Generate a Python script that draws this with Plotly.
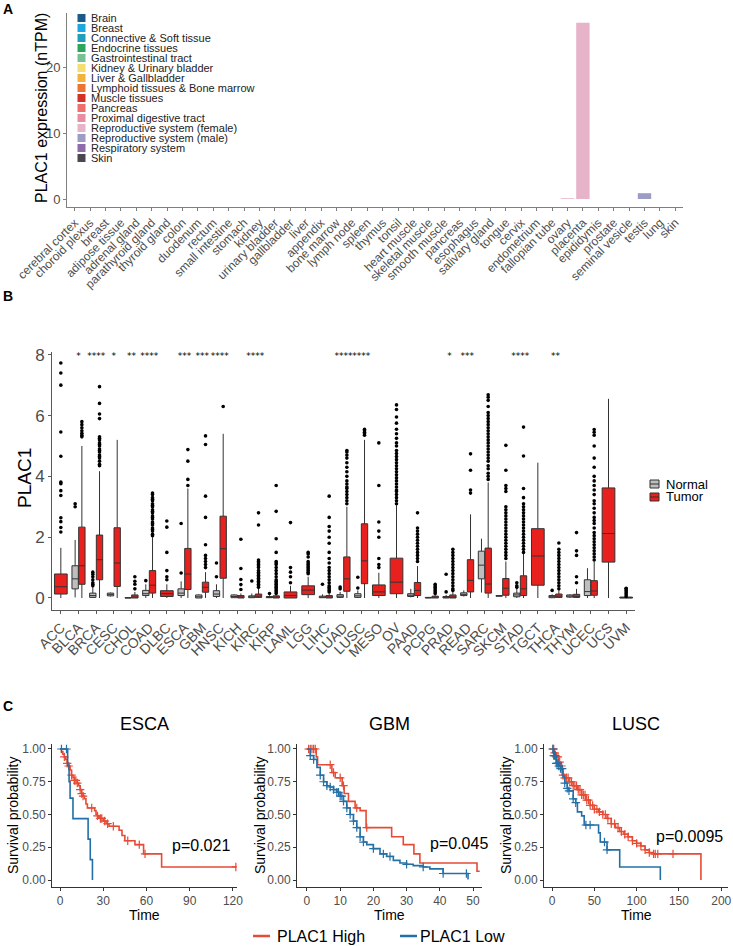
import plotly.graph_objects as go

W, H = 733, 946

# ---------------- Panel A data ----------------
tissues = ["cerebral cortex", "choroid plexus", "breast", "adipose tissue", "adrenal gland",
           "parathyroid gland", "thyroid gland", "colon", "duodenum", "rectum",
           "small intestine", "stomach", "kidney", "urinary bladder", "gallbladder",
           "liver", "appendix", "bone marrow", "lymph node", "spleen", "thymus", "tonsil",
           "heart muscle", "skeletal muscle", "smooth muscle", "pancreas", "esophagus",
           "salivary gland", "tongue", "cervix", "endometrium", "fallopian tube", "ovary",
           "placenta", "epididymis", "prostate", "seminal vesicle", "testis", "lung", "skin"]
tissue_groups = ["Brain", "Brain", "Breast", "Connective & Soft tissue", "Endocrine tissues",
                 "Endocrine tissues", "Endocrine tissues", "Gastrointestinal tract",
                 "Gastrointestinal tract", "Gastrointestinal tract", "Gastrointestinal tract",
                 "Gastrointestinal tract", "Kidney & Urinary bladder", "Kidney & Urinary bladder",
                 "Liver & Gallbladder", "Liver & Gallbladder",
                 "Lymphoid tissues & Bone marrow", "Lymphoid tissues & Bone marrow",
                 "Lymphoid tissues & Bone marrow", "Lymphoid tissues & Bone marrow",
                 "Lymphoid tissues & Bone marrow", "Lymphoid tissues & Bone marrow",
                 "Muscle tissues", "Muscle tissues", "Muscle tissues", "Pancreas",
                 "Proximal digestive tract", "Proximal digestive tract", "Proximal digestive tract",
                 "Reproductive system (female)", "Reproductive system (female)",
                 "Reproductive system (female)", "Reproductive system (female)",
                 "Reproductive system (female)", "Reproductive system (male)",
                 "Reproductive system (male)", "Reproductive system (male)",
                 "Reproductive system (male)", "Respiratory system", "Skin"]
tissue_values = [0, 0, 0, 0, 0, 0, 0, 0, 0, 0, 0, 0, 0, 0, 0, 0, 0, 0, 0, 0, 0, 0,
                 0, 0, 0, 0, 0, 0, 0, 0, 0, 0, 0.12, 26.7, 0, 0, 0, 0.88, 0, 0]
group_names = ["Brain", "Breast", "Connective & Soft tissue", "Endocrine tissues",
               "Gastrointestinal tract", "Kidney & Urinary bladder", "Liver & Gallbladder",
               "Lymphoid tissues & Bone marrow", "Muscle tissues", "Pancreas",
               "Proximal digestive tract", "Reproductive system (female)",
               "Reproductive system (male)", "Respiratory system", "Skin"]
group_colors = ["#1B5B8C", "#1BA8E0", "#219EBC", "#2EA55C", "#78C192", "#F4DD71", "#F2B33A",
                "#EC7532", "#D43127", "#EE6F6E", "#E98EA0", "#E6B3C8", "#9D9CC4", "#8E6BAA",
                "#4B4750"]
a_ytitle = "PLAC1 expression (nTPM)"

# ---------------- Panel B data ----------------
cancers = ["ACC", "BLCA", "BRCA", "CESC", "CHOL", "COAD", "DLBC", "ESCA", "GBM", "HNSC",
           "KICH", "KIRC", "KIRP", "LAML", "LGG", "LIHC", "LUAD", "LUSC", "MESO", "OV",
           "PAAD", "PCPG", "PRAD", "READ", "SARC", "SKCM", "STAD", "TGCT", "THCA", "THYM",
           "UCEC", "UCS", "UVM"]
# [lower whisker, q1, median, q3, upper whisker]
normal_stats = [None, [0.02, 0.30, 0.63, 1.06, 1.91], [0.0, 0.02, 0.08, 0.16, 0.35],
                [0.05, 0.07, 0.11, 0.16, 0.18], [0.0, 0.0, 0.005, 0.01, 0.02],
                [0.0, 0.08, 0.14, 0.25, 0.45], None, [0.0, 0.08, 0.16, 0.30, 0.55],
                [0.0, 0.0, 0.04, 0.10, 0.12], [0.0, 0.05, 0.13, 0.24, 0.45],
                [0.0, 0.01, 0.05, 0.10, 0.12], [0.0, 0.01, 0.03, 0.07, 0.15],
                [0.0, 0.01, 0.02, 0.05, 0.09], None, None, [0.0, 0.01, 0.03, 0.06, 0.12],
                [0.0, 0.02, 0.06, 0.11, 0.20], [0.0, 0.02, 0.07, 0.14, 0.25], None, None,
                [0.02, 0.05, 0.09, 0.14, 0.30], [0.0, 0.0, 0.01, 0.02, 0.03],
                [0.0, 0.0, 0.02, 0.05, 0.10], [0.05, 0.08, 0.12, 0.17, 0.25],
                [0.18, 0.63, 1.08, 1.54, 1.95], [0.05, 0.06, 0.07, 0.08, 0.09],
                [0.0, 0.04, 0.10, 0.16, 0.30], None, [0.0, 0.01, 0.04, 0.08, 0.12],
                [0.0, 0.03, 0.06, 0.10, 0.12], [0.0, 0.08, 0.21, 0.60, 0.98], None, None]
tumor_stats = [[0.0, 0.13, 0.37, 0.79, 1.65], [0.0, 0.45, 1.06, 2.33, 5.0],
               [0.0, 0.60, 1.26, 2.07, 4.17], [0.0, 0.38, 1.15, 2.31, 5.2],
               [0.0, 0.0, 0.03, 0.10, 0.20], [0.0, 0.16, 0.42, 0.90, 2.0],
               [0.0, 0.05, 0.14, 0.24, 0.45], [0.0, 0.28, 0.79, 1.63, 3.6],
               [0.0, 0.19, 0.35, 0.52, 0.85], [0.0, 0.65, 1.62, 2.69, 5.4],
               [0.0, 0.0, 0.03, 0.08, 0.15], [0.0, 0.02, 0.06, 0.13, 0.30],
               [0.0, 0.0, 0.02, 0.07, 0.12], [0.0, 0.0, 0.08, 0.20, 0.40],
               [0.0, 0.11, 0.26, 0.40, 0.70], [0.0, 0.0, 0.03, 0.08, 0.15],
               [0.0, 0.22, 0.63, 1.35, 3.0], [0.0, 0.47, 1.22, 2.44, 5.2],
               [0.0, 0.08, 0.20, 0.43, 0.83], [0.0, 0.14, 0.52, 1.31, 3.05],
               [0.0, 0.08, 0.25, 0.51, 1.05], [0.0, 0.0, 0.03, 0.06, 0.10],
               [0.0, 0.0, 0.03, 0.10, 0.20], [0.0, 0.20, 0.58, 1.26, 2.75],
               [0.0, 0.16, 0.46, 1.64, 3.8], [0.0, 0.09, 0.32, 0.64, 1.2],
               [0.0, 0.08, 0.30, 0.73, 1.5], [0.0, 0.42, 1.38, 2.28, 4.45],
               [0.0, 0.02, 0.06, 0.13, 0.25], [0.0, 0.02, 0.05, 0.12, 0.30],
               [0.0, 0.09, 0.23, 0.57, 1.2], [0.0, 1.18, 2.12, 3.62, 6.55],
               [0.0, 0.0, 0.01, 0.03, 0.05]]
normal_outliers = [[], [3.0, 3.1], [0.4, 0.45, 0.5, 0.6, 0.7, 0.78, 0.85], [], [], [0.57], [],
                   [0.82, 2.45], [], [0.7, 1.15], [], [0.56], [0.15], [], [], [0.45],
                   [0.3, 0.36], [0.33, 0.68], [], [], [], [], [0.2, 0.78], [], [], [],
                   [0.35, 0.4, 0.5], [], [0.25], [], [], [], []]
tumor_outliers = [
    [2.17, 2.32, 2.51, 2.64, 3.37, 3.53, 3.76, 3.81, 4.66, 5.46, 7.0, 7.4, 7.73],
    [5.3, 5.35, 5.42, 5.5, 5.6, 5.7, 5.8],
    [4.35, 4.4, 4.5, 4.6, 4.65, 4.7, 4.8, 4.85, 4.9, 5.0, 5.05, 5.1, 5.2, 5.25, 5.3,
     5.9, 6.05, 6.4, 6.95],
    [],
    [0.3, 0.45, 0.55, 0.7],
    [2.05, 2.1, 2.2, 2.25, 2.3, 2.4, 2.45, 2.5, 2.6, 2.65, 2.7, 2.8, 2.85, 2.9, 3.0,
     3.05, 3.1, 3.2, 3.25, 3.3, 3.4, 3.45],
    [0.6, 0.7, 0.9, 1.5, 2.33, 2.53],
    [3.7, 3.9, 4.5, 4.88],
    [1.0, 1.1, 1.2, 1.3, 1.4, 1.75, 2.65, 3.35, 5.05, 5.33],
    [6.3],
    [0.28, 0.44, 0.61, 0.97, 1.93],
    [0.35, 0.4, 0.45, 0.5, 0.55, 0.6, 0.65, 0.7, 0.75, 0.8, 0.85, 0.9, 1.0, 1.05, 1.1,
     1.15, 1.2, 1.25, 2.4, 2.8],
    [0.15, 0.2, 0.25, 0.3, 0.35, 0.4, 0.45, 0.5, 0.55, 0.6, 0.7, 0.8, 0.9, 1.0, 1.1,
     1.15, 1.2, 1.5, 1.95, 2.85, 3.7],
    [0.5, 0.7, 0.85, 1.0, 2.48],
    [0.8, 0.85, 0.9, 0.95, 1.0, 1.05, 1.1, 1.15, 1.2, 1.35, 1.45, 1.5],
    [0.2, 0.25, 0.3, 0.35, 0.4, 0.5, 0.6, 0.7, 0.8, 0.9, 1.0, 1.15, 1.3, 1.5, 1.8, 2.0,
     2.2, 2.35, 2.65, 3.35],
    [3.1, 3.2, 3.3, 3.4, 3.5, 3.6, 3.65, 3.75, 3.85, 4.0, 4.15, 4.3, 4.45, 4.6, 4.7,
     4.8, 4.85],
    [5.35, 5.4, 5.45, 5.5, 5.55],
    [1.0, 1.1, 1.3, 2.0, 2.2, 2.5, 3.7, 5.1],
    [3.1, 3.2, 3.3, 3.4, 3.5, 3.55, 3.65, 3.75, 3.85, 3.95, 4.05, 4.15, 4.25, 4.35, 4.45,
     4.55, 4.65, 4.75, 4.85, 5.0, 5.1, 5.25, 5.4, 5.55, 5.75, 5.95, 6.2, 6.35],
    [1.2, 1.3, 1.4, 1.5, 1.6, 1.7, 1.8, 1.9, 2.0, 2.1, 2.2, 2.3, 2.8],
    [0.15, 0.2, 0.25, 0.3, 0.35, 0.4, 0.45],
    [0.25, 0.3, 0.4, 0.5, 0.6, 0.7, 0.8, 0.9, 1.0, 1.1, 1.2, 1.3, 1.4, 1.5, 1.6],
    [3.45, 3.55, 4.2, 4.74],
    [3.9, 4.0, 4.1, 4.25, 4.35, 4.5, 4.6, 4.7, 4.8, 4.9, 5.0, 5.1, 5.2, 5.3, 5.4, 5.5,
     5.6, 5.7, 5.8, 5.9, 6.0, 6.1, 6.3, 6.5, 6.6, 6.68],
    [1.3, 1.4, 1.5, 1.6, 1.7, 1.8, 1.9, 2.0, 2.1, 2.2, 2.3, 2.4, 2.5, 2.6, 2.7, 2.8, 2.9,
     3.0, 3.5, 3.6, 3.7, 4.2, 5.02],
    [1.5, 1.6, 1.7, 1.8, 1.9, 2.0, 2.1, 2.2, 2.3, 2.4, 2.5, 2.6, 2.7, 2.8, 2.9, 3.0, 3.1,
     3.3, 3.6, 4.67, 5.62],
    [],
    [0.3, 0.4, 0.5, 0.6, 0.7, 0.8, 0.9, 1.0, 1.1, 1.2, 1.3, 1.4, 1.5, 1.6, 1.81],
    [0.5, 0.7, 1.4, 1.55, 2.15],
    [1.25, 1.35, 1.45, 1.55, 1.65, 1.75, 1.85, 1.95, 2.05, 2.15, 2.3, 2.45, 2.55, 2.65,
     2.8, 2.95, 3.1, 3.2, 3.4, 3.55, 3.7, 3.85, 4.0, 4.3, 4.6, 5.0, 5.35, 5.45, 5.54],
    [],
    [0.05, 0.1, 0.15, 0.2, 0.25, 0.3, 0.32]]
stars = ["", "*", "****", "*", "**", "****", "", "***", "***", "****", "", "****", "", "",
         "", "", "****", "****", "", "", "", "", "*", "***", "", "", "****", "", "**", "",
         "", "", ""]
star_level = 7.93
b_ytitle = "PLAC1"
b_legend = ["Normal", "Tumor"]

# ---------------- Panel C data ----------------
km_names = ["ESCA", "GBM", "LUSC"]
km_pvals = ["p=0.021", "p=0.045", "p=0.0095"]
km_xticks = [[0, 30, 60, 90, 120], [0, 10, 20, 30, 40, 50], [0, 50, 100, 150, 200]]
km_xtitle = "Time"
km_ytitle = "Survival probability"

esca_high_t = [0, 1, 2, 3, 4, 5, 6, 7, 8, 9, 10, 12, 13, 14, 15, 16, 17, 18, 19, 24, 25,
               26, 27, 28, 30, 32, 34, 41, 43, 45, 52, 58, 70.5]
esca_high_s = [1, 0.98, 0.96, 0.94, 0.92, 0.89, 0.87, 0.84, 0.80, 0.78, 0.76, 0.74, 0.72,
               0.69, 0.66, 0.64, 0.62, 0.58, 0.55, 0.53, 0.50, 0.49, 0.48, 0.47, 0.45, 0.43,
               0.41, 0.38, 0.34, 0.30, 0.27, 0.20, 0.10]
esca_high_end = 122
esca_high_cens = [3, 5, 6, 8, 10, 11, 12, 14, 15, 16, 22, 26, 28, 29, 31, 33, 37, 47, 55,
                  59, 122]
esca_low_t = [0, 5.3, 6.3, 7, 9, 19.5, 21, 22.5]
esca_low_s = [1, 0.875, 0.75, 0.625, 0.469, 0.3125, 0.156, 0.0]
esca_low_end = 22.5
esca_low_cens = [1, 4.5]

gbm_high_t = [0, 2.8, 3.2, 7.5, 8.5, 10.6, 11.2, 12.5, 14.5, 16, 17.8, 25.5, 29, 32.2, 34,
              51.2]
gbm_high_s = [1, 0.94, 0.88, 0.82, 0.78, 0.72, 0.66, 0.60, 0.55, 0.53, 0.40, 0.33, 0.27,
              0.20, 0.13, 0.067]
gbm_high_end = 52
gbm_high_cens = [0.5, 1, 1.5, 2, 2.5, 7, 8, 10, 11, 15, 18]
gbm_low_t = [0, 1, 2, 3, 4, 5, 6, 7, 8, 9, 10, 11, 12, 13, 14, 15, 16, 17, 18, 20, 22, 24,
             26, 28, 30, 32, 35, 37, 41, 48.5]
gbm_low_s = [1, 0.95, 0.92, 0.86, 0.80, 0.75, 0.72, 0.71, 0.69, 0.67, 0.64, 0.60, 0.55,
             0.50, 0.45, 0.40, 0.33, 0.29, 0.27, 0.24, 0.20, 0.18, 0.15, 0.13, 0.12, 0.11,
             0.10, 0.085, 0.05, 0.01]
gbm_low_end = 48.7
gbm_low_cens = [1, 2, 4, 5, 6, 7, 8, 9, 9.5, 10, 10.5, 11, 12, 13, 14, 15, 16, 17, 20, 23,
                25, 30, 35, 41, 48]

lusc_high_t = [0, 3, 5, 8, 10, 12, 15, 20, 25, 30, 35, 40, 45, 50, 55, 60, 65, 70, 75, 80,
               85, 90, 95, 100, 105, 110, 115, 120, 176]
lusc_high_s = [1, 0.97, 0.94, 0.90, 0.87, 0.80, 0.78, 0.75, 0.72, 0.69, 0.65, 0.61, 0.57,
               0.54, 0.52, 0.50, 0.47, 0.43, 0.40, 0.37, 0.35, 0.33, 0.30, 0.28, 0.26, 0.23,
               0.21, 0.20, 0.0]
lusc_high_end = 176
lusc_high_cens = [1, 2, 3, 5, 7, 9, 11, 13, 15, 17, 19, 21, 23, 25, 27, 29, 31, 33, 35, 37,
                  39, 41, 43, 45, 48, 50, 53, 56, 60, 63, 66, 70, 74, 78, 82, 86, 90, 95,
                  100, 105, 110, 115, 120, 122, 125, 143]
lusc_low_t = [0, 2, 5, 8, 10, 13, 15, 18, 20, 25, 28, 30, 35, 38, 55, 57, 65, 80, 128]
lusc_low_s = [1, 0.95, 0.89, 0.87, 0.85, 0.79, 0.74, 0.70, 0.68, 0.62, 0.59, 0.52, 0.49,
              0.42, 0.36, 0.29, 0.23, 0.10, 0.0]
lusc_low_end = 128
lusc_low_cens = [1, 2, 3, 4, 5, 6, 7, 8, 10, 12, 15, 18, 20, 25, 28, 40, 45, 62, 65]

km_high = [(esca_high_t, esca_high_s, esca_high_end, esca_high_cens),
           (gbm_high_t, gbm_high_s, gbm_high_end, gbm_high_cens),
           (lusc_high_t, lusc_high_s, lusc_high_end, lusc_high_cens)]
km_low = [(esca_low_t, esca_low_s, esca_low_end, esca_low_cens),
          (gbm_low_t, gbm_low_s, gbm_low_end, gbm_low_cens),
          (lusc_low_t, lusc_low_s, lusc_low_end, lusc_low_cens)]
km_legend = ["PLAC1 High", "PLAC1 Low"]

# ---------------- styling ----------------
FONT = "Liberation Sans, Arial, sans-serif"
TICKC = "#4D4D4D"
RED_BOX = "#E8211E"
GRAY_BOX = "#BEBEBE"
HIGH_C = "#E64B35"
LOW_C = "#2470A6"


def px_x(p):
    return p / W


def px_y(p):
    return 1 - p / H


fig = go.Figure()
shapes = []
annotations = []


def text_at(x, y, txt, size, color="black", xanchor="center", angle=0):
    annotations.append(dict(x=px_x(x), y=px_y(y), xref="paper", yref="paper", text=txt,
                            showarrow=False, xanchor=xanchor, yanchor="middle",
                            textangle=angle,
                            font=dict(size=size, color=color, family=FONT)))


# ---------------- Panel A ----------------
color_of = dict(zip(group_names, group_colors))
for g in group_names:
    xs = [t for t, gg in zip(tissues, tissue_groups) if gg == g]
    ys = [v for v, gg in zip(tissue_values, tissue_groups) if gg == g]
    fig.add_trace(go.Bar(x=xs, y=ys, marker=dict(color=color_of[g], line=dict(width=0)),
                         width=0.87, showlegend=False, xaxis="x", yaxis="y"))

for k, (g, c) in enumerate(zip(group_names, group_colors)):
    yc = 18 + 10 * k
    shapes.append(dict(type="rect", xref="paper", yref="paper",
                       x0=px_x(77.5), x1=px_x(85.5), y0=px_y(yc + 4), y1=px_y(yc - 4),
                       fillcolor=c, line=dict(width=0)))
    text_at(89, yc, g, 11, "#222222", xanchor="left")
text_at(42, 108, a_ytitle, 16, angle=-90)

# ---------------- Panel B ----------------
pair_idx = [i for i, s in enumerate(normal_stats) if s is not None]
solo_idx = [i for i, s in enumerate(normal_stats) if s is None]
OFF = 0.19


def box_trace(idxs, stats, offset, width, color):
    return go.Box(
        x=[i + offset for i in idxs],
        lowerfence=[stats[i][0] for i in idxs],
        q1=[stats[i][1] for i in idxs],
        median=[stats[i][2] for i in idxs],
        q3=[stats[i][3] for i in idxs],
        upperfence=[stats[i][4] for i in idxs],
        width=width, fillcolor=color, line=dict(color="#333333", width=1),
        whiskerwidth=0, boxpoints=False, showlegend=False, xaxis="x2", yaxis="y2",
        hoverinfo="skip")


fig.add_trace(box_trace(pair_idx, normal_stats, -OFF, 0.36, GRAY_BOX))
fig.add_trace(box_trace(pair_idx, tumor_stats, OFF, 0.36, RED_BOX))
fig.add_trace(box_trace(solo_idx, tumor_stats, 0.0, 0.72, RED_BOX))

ox, oy = [], []
for i in range(len(cancers)):
    paired = normal_stats[i] is not None
    for v in normal_outliers[i]:
        ox.append(i - OFF)
        oy.append(v)
    for v in tumor_outliers[i]:
        ox.append(i + (OFF if paired else 0.0))
        oy.append(v)
fig.add_trace(go.Scatter(x=ox, y=oy, mode="markers",
                         marker=dict(color="black", size=3.6, line=dict(width=0)),
                         showlegend=False, xaxis="x2", yaxis="y2", hoverinfo="skip"))

sx = [i for i, s in enumerate(stars) if s]
fig.add_trace(go.Scatter(x=sx, y=[star_level] * len(sx), mode="text",
                         text=[stars[i] for i in sx], textposition="middle center",
                         textfont=dict(size=9, color="#000000", family="DejaVu Sans"),
                         showlegend=False, xaxis="x2", yaxis="y2", hoverinfo="skip"))

for k, (lab, col) in enumerate(zip(b_legend, [GRAY_BOX, RED_BOX])):
    yc = 484 + 13 * k
    shapes.append(dict(type="rect", xref="paper", yref="paper",
                       x0=px_x(650), x1=px_x(659), y0=px_y(yc + 4), y1=px_y(yc - 4),
                       fillcolor=col, line=dict(color="#333333", width=1)))
    shapes.append(dict(type="line", xref="paper", yref="paper",
                       x0=px_x(650), x1=px_x(659), y0=px_y(yc), y1=px_y(yc),
                       line=dict(color="#333333", width=1)))
    text_at(664, yc, lab, 13, xanchor="left")
text_at(25, 478, b_ytitle, 19, angle=-90)

# ---------------- Panel C ----------------
c_dom_px = [(52, 237), (297, 482), (544, 728)]
c_ranges = [[-5.55, 122.8], [-3.0, 52.7], [-9.5, 208]]
p_pos = [(201, 845), (459, 843), (689, 836)]
ytitle_x = [13, 260, 506]


def surv_at(ts, ss, c):
    val = ss[0]
    for t, s in zip(ts, ss):
        if t <= c:
            val = s
    return val


for j in range(3):
    xa = "x%d" % (j + 3)
    ya = "y%d" % (j + 3)
    for (ts, ss, tend, cens), col in [(km_high[j], HIGH_C), (km_low[j], LOW_C)]:
        fig.add_trace(go.Scatter(x=list(ts) + [tend], y=list(ss) + [ss[-1]], mode="lines",
                                 line=dict(color=col, width=1.6, shape="hv"),
                                 showlegend=False, xaxis=xa, yaxis=ya, hoverinfo="skip"))
        fig.add_trace(go.Scatter(x=cens, y=[surv_at(ts, ss, c) for c in cens],
                                 mode="markers",
                                 marker=dict(symbol="cross-thin", size=6, color=col,
                                             line=dict(color=col, width=1.2)),
                                 showlegend=False, xaxis=xa, yaxis=ya, hoverinfo="skip"))
    x0, x1 = c_dom_px[j]
    text_at((x0 + x1) / 2, 724, km_names[j], 18)
    text_at(p_pos[j][0], p_pos[j][1], km_pvals[j], 16)
    text_at((x0 + x1) / 2, 915, km_xtitle, 14)
    text_at(ytitle_x[j], 815, km_ytitle, 14, angle=-90)

for (lab, col, lx0, tx) in [(km_legend[0], HIGH_C, 253, 275), (km_legend[1], LOW_C, 400, 418)]:
    shapes.append(dict(type="line", xref="paper", yref="paper", x0=px_x(lx0),
                       x1=px_x(lx0 + 17), y0=px_y(936), y1=px_y(936),
                       line=dict(color=col, width=2.5)))
    text_at(tx, 936, lab, 16, xanchor="left")

for lab, (lx, ly) in zip(["A", "B", "C"], [(8, 9), (8, 296), (8, 706)]):
    text_at(lx, ly, "<b>%s</b>" % lab, 14)

# ---------------- axes ----------------
axis_common = dict(showgrid=False, zeroline=False, showline=True, ticks="outside",
                   ticklen=3, tickwidth=1, automargin=False)

layout = dict(
    template="none",
    width=W, height=H, margin=dict(l=0, r=0, t=0, b=0, pad=0, autoexpand=False),
    paper_bgcolor="white", plot_bgcolor="white",
    font=dict(family=FONT, color="black"),
    showlegend=False, shapes=shapes, annotations=annotations,
    xaxis=dict(axis_common, domain=[px_x(67), px_x(683)], anchor="y", type="category",
               categoryorder="array", categoryarray=tissues, range=[-0.5, 39.5],
               tickangle=-45, linecolor="#7F7F7F", tickcolor="#7F7F7F",
               tickfont=dict(size=12, color=TICKC)),
    yaxis=dict(axis_common, domain=[px_y(207), px_y(13)], anchor="x", range=[-1.21, 28.18],
               tickvals=[0, 10, 20], linecolor="#7F7F7F", tickcolor="#7F7F7F",
               tickfont=dict(size=13, color=TICKC)),
    xaxis2=dict(axis_common, domain=[px_x(52), px_x(635)], anchor="y2", range=[-0.5, 32.5],
                tickvals=list(range(len(cancers))), ticktext=cancers, tickangle=-45,
                linecolor="#595959", tickcolor="#595959",
                tickfont=dict(size=14, color=TICKC)),
    yaxis2=dict(axis_common, domain=[px_y(610), px_y(352)], anchor="x2",
                range=[-0.395, 8.09], tickvals=[0, 2, 4, 6, 8], linecolor="#595959",
                tickcolor="#595959", tickfont=dict(size=17, color=TICKC)),
)
for j in range(3):
    x0, x1 = c_dom_px[j]
    layout["xaxis%d" % (j + 3)] = dict(
        axis_common, domain=[px_x(x0), px_x(x1)], anchor="y%d" % (j + 3),
        range=c_ranges[j], tickvals=km_xticks[j], linecolor="#333333", tickcolor="#333333",
        tickfont=dict(size=12, color=TICKC))
    layout["yaxis%d" % (j + 3)] = dict(
        axis_common, domain=[px_y(887), px_y(744)], anchor="x%d" % (j + 3),
        range=[-0.053, 1.038], tickvals=[0, 0.25, 0.5, 0.75, 1.0], tickformat=".2f",
        linecolor="#333333", tickcolor="#333333", tickfont=dict(size=12, color=TICKC))

fig.update_layout(**layout)
fig.write_html("out.html", config={"displayModeBar": False, "staticPlot": True},
               post_script="document.body.style.margin='0';document.body.style.padding='0';"
                           "document.body.style.overflow='hidden';")
